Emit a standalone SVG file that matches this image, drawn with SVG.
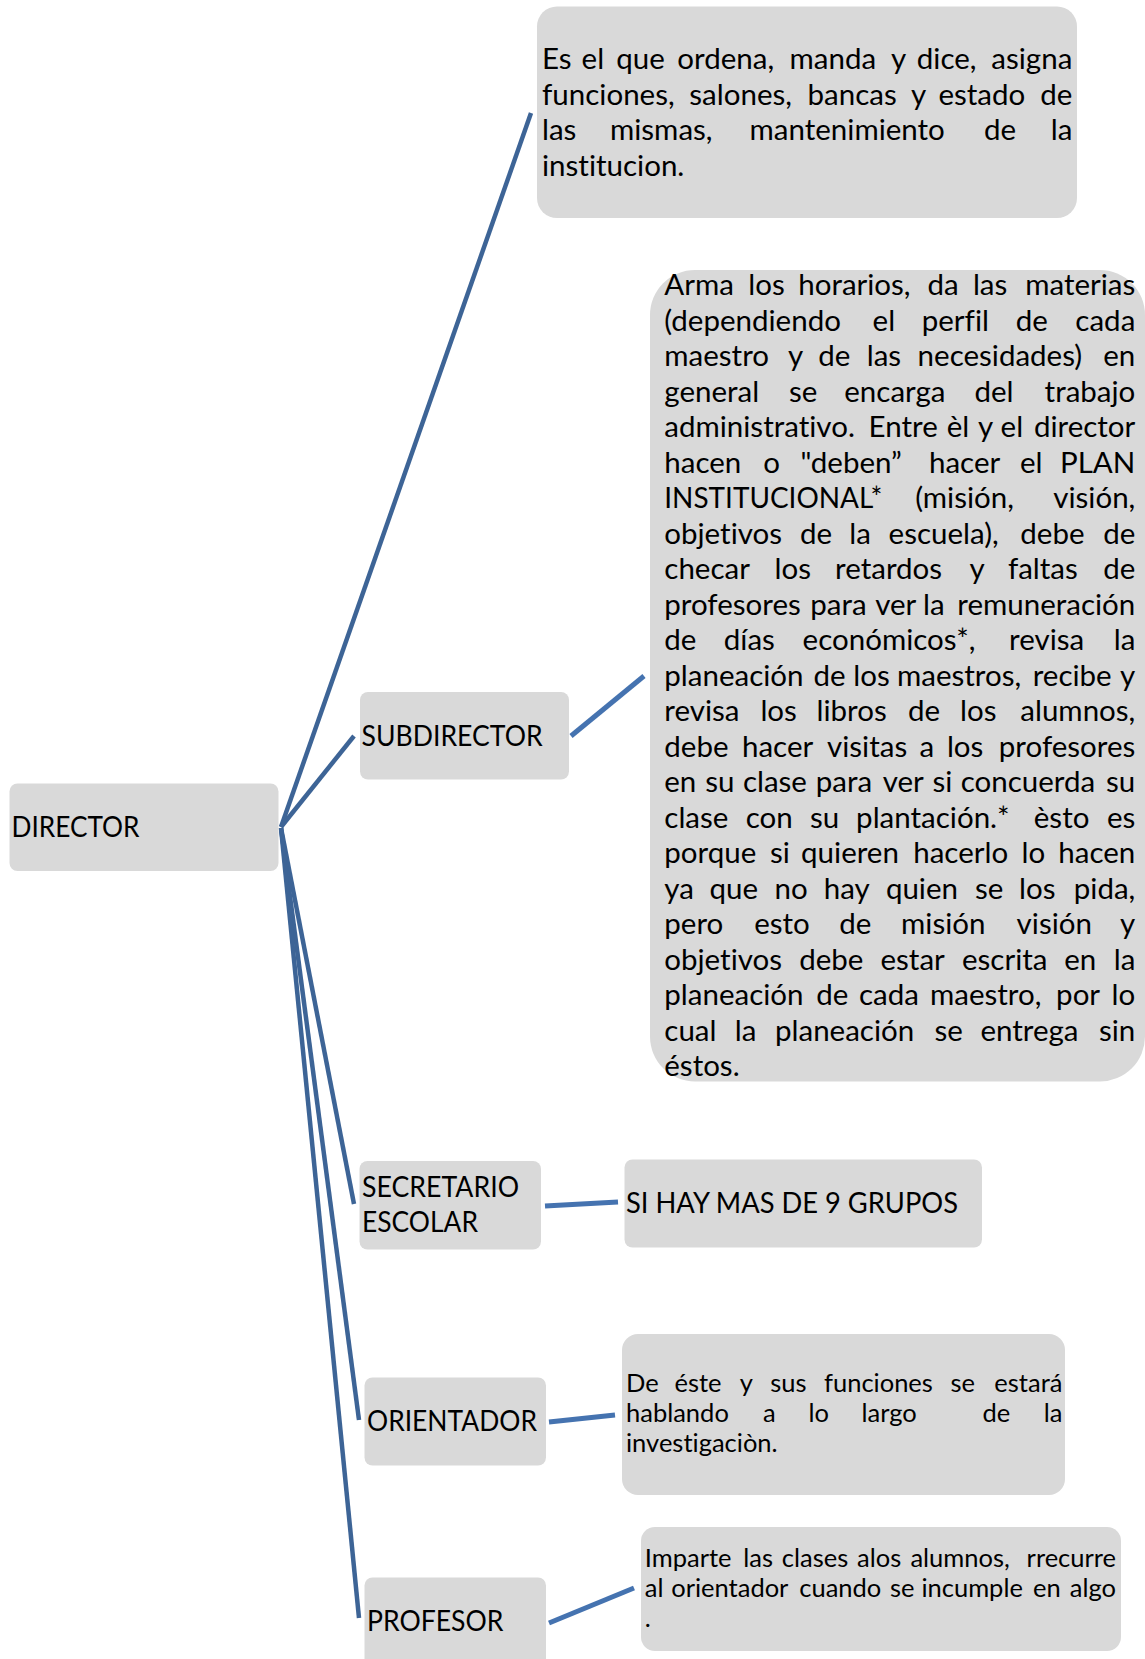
<svg xmlns="http://www.w3.org/2000/svg" width="1145" height="1659" viewBox="0 0 1145 1659">
<style>
.box{fill:#D9D9D9}
.t{font-family:Lato,"Noto Sans","Liberation Sans",sans-serif;fill:#000;font-variant-ligatures:none}
.big{font-size:29.5px}
.sm{font-size:25.5px}
.lbl{font-size:28px}
.e{text-anchor:end}
.main{stroke:#3D6496;stroke-width:4.5;fill:none;stroke-linecap:butt}
.sub{stroke:#4573B0;stroke-width:5;fill:none}
</style>
<rect width="1145" height="1659" fill="#fff"/>
<g id="connectors">
<path class="main" d="M281,827 L531,113"/>
<path class="main" d="M281,827 L354,736"/>
<path class="main" d="M281,828 L354,1204"/>
<path class="main" d="M281,828 L359,1420"/>
<path class="main" d="M281,828 L359,1618"/>
<path class="sub" d="M571,736 L644,676"/>
<path class="sub" d="M545,1206 L618,1202"/>
<path class="sub" d="M549,1422 L615,1415"/>
<path class="sub" d="M549,1623 L634,1588"/>
</g>
<g id="director">
<rect class="box" x="9.5" y="783.5" width="269" height="87.5" rx="8"/>
<text class="t lbl" x="11.5" y="836.5" textLength="128" lengthAdjust="spacingAndGlyphs">DIRECTOR</text>
</g>
<g id="director-desc">
<rect class="box" x="537" y="6.5" width="540" height="211.5" rx="20"/>
<text class="t big" y="69"><tspan x="542">Es </tspan><tspan x="581.6">el </tspan><tspan x="616.3">que </tspan><tspan x="677.3">ordena, </tspan><tspan x="789.6">manda </tspan><tspan x="890.9">y </tspan><tspan x="916.8">dice, </tspan><tspan class="e" x="1072.3">asigna</tspan></text>
<text class="t big" y="104.5"><tspan x="542">funciones, </tspan><tspan x="689.3">salones, </tspan><tspan x="807.6">bancas </tspan><tspan x="910.9">y </tspan><tspan x="938.4">estado </tspan><tspan class="e" x="1072.3">de</tspan></text>
<text class="t big" y="140"><tspan x="542">las </tspan><tspan x="610">mismas, </tspan><tspan x="749.6">mantenimiento </tspan><tspan x="984.1">de </tspan><tspan class="e" x="1072.3">la</tspan></text>
<text class="t big" x="542" y="175.5">institucion.</text>
</g>
<g id="subdirector">
<rect class="box" x="360" y="692" width="209" height="87.5" rx="8"/>
<text class="t lbl" x="361.6" y="746" textLength="181" lengthAdjust="spacingAndGlyphs">SUBDIRECTOR</text>
</g>
<g id="subdirector-desc">
<rect class="box" x="650" y="270" width="495" height="811.5" rx="45"/>
<text class="t big" y="295"><tspan x="664.3">Arma </tspan><tspan x="748.2">los </tspan><tspan x="798.2">horarios, </tspan><tspan x="927.5">da </tspan><tspan x="972.9">las </tspan><tspan class="e" x="1135.3">materias</tspan></text>
<text class="t big" y="330.5"><tspan x="664.3">(dependiendo </tspan><tspan x="872.6">el </tspan><tspan x="921.7">perfil </tspan><tspan x="1015.8">de </tspan><tspan class="e" x="1135.3">cada</tspan></text>
<text class="t big" y="366"><tspan x="664.3">maestro </tspan><tspan x="788.1">y </tspan><tspan x="818.3">de </tspan><tspan x="866.7">las </tspan><tspan x="917.6">necesidades) </tspan><tspan class="e" x="1135.3">en</tspan></text>
<text class="t big" y="401.5"><tspan x="664.3">general </tspan><tspan x="788.9">se </tspan><tspan x="844.3">encarga </tspan><tspan x="974.5">del </tspan><tspan class="e" x="1135.3">trabajo</tspan></text>
<text class="t big" y="437"><tspan x="664.3">administrativo. </tspan><tspan x="868.6">Entre </tspan><tspan x="946.8">èl </tspan><tspan x="978.1">y </tspan><tspan x="1000.6">el </tspan><tspan class="e" x="1135.3">director</tspan></text>
<text class="t big" y="472.5"><tspan x="664.3">hacen </tspan><tspan x="763.2">o </tspan><tspan x="800.6">"deben” </tspan><tspan x="929">hacer </tspan><tspan x="1020">el </tspan><tspan class="e" x="1135.3">PLAN</tspan></text>
<text class="t big" y="508"><tspan x="664.3" textLength="218" lengthAdjust="spacingAndGlyphs">INSTITUCIONAL*</tspan> <tspan x="915.2">(misión, </tspan><tspan class="e" x="1135.3">visión,</tspan></text>
<text class="t big" y="543.5"><tspan x="664.3">objetivos </tspan><tspan x="800">de </tspan><tspan x="849.3">la </tspan><tspan x="888.6">escuela), </tspan><tspan x="1020.3">debe </tspan><tspan class="e" x="1135.3">de</tspan></text>
<text class="t big" y="579"><tspan x="664.3">checar </tspan><tspan x="774.5">los </tspan><tspan x="835.1">retardos </tspan><tspan x="969.5">y </tspan><tspan x="1007.9">faltas </tspan><tspan class="e" x="1135.3">de</tspan></text>
<text class="t big" y="614.5"><tspan x="664.3">profesores </tspan><tspan x="810.2">para </tspan><tspan x="875.2">ver </tspan><tspan x="923.1">la </tspan><tspan class="e" x="1135.3">remuneración</tspan></text>
<text class="t big" y="650"><tspan x="664.3">de </tspan><tspan x="723.8">días </tspan><tspan x="802.6">económicos*, </tspan><tspan x="1009.1">revisa </tspan><tspan class="e" x="1135.3">la</tspan></text>
<text class="t big" y="685.5"><tspan x="664.3">planeación </tspan><tspan x="813.4">de </tspan><tspan x="853.2">los </tspan><tspan x="897">maestros, </tspan><tspan x="1032.7">recibe </tspan><tspan class="e" x="1135.3">y</tspan></text>
<text class="t big" y="721"><tspan x="664.3">revisa </tspan><tspan x="760.4">los </tspan><tspan x="816.5">libros </tspan><tspan x="907.9">de </tspan><tspan x="960">los </tspan><tspan class="e" x="1135.3">alumnos,</tspan></text>
<text class="t big" y="756.5"><tspan x="664.3">debe </tspan><tspan x="742">hacer </tspan><tspan x="827">visitas </tspan><tspan x="919.4">a </tspan><tspan x="946.9">los </tspan><tspan class="e" x="1135.3">profesores</tspan></text>
<text class="t big" y="792"><tspan x="664.3">en </tspan><tspan x="705.3">su </tspan><tspan x="742.9">clase </tspan><tspan x="815.8">para </tspan><tspan x="882.7">ver </tspan><tspan x="932.6">si </tspan><tspan x="960.7">concuerda </tspan><tspan class="e" x="1135.3">su</tspan></text>
<text class="t big" y="827.5"><tspan x="664.3">clase </tspan><tspan x="745.8">con </tspan><tspan x="809.9">su </tspan><tspan x="856.1">plantación.* </tspan><tspan x="1033.8">èsto </tspan><tspan class="e" x="1135.3">es</tspan></text>
<text class="t big" y="863"><tspan x="664.3">porque </tspan><tspan x="770">si </tspan><tspan x="801.1">quieren </tspan><tspan x="913.2">hacerlo </tspan><tspan x="1021.5">lo </tspan><tspan class="e" x="1135.3">hacen</tspan></text>
<text class="t big" y="898.5"><tspan x="664.3">ya </tspan><tspan x="709.6">que </tspan><tspan x="774.6">no </tspan><tspan x="823.8">hay </tspan><tspan x="885.9">quien </tspan><tspan x="975.1">se </tspan><tspan x="1019">los </tspan><tspan class="e" x="1135.3">pida,</tspan></text>
<text class="t big" y="934"><tspan x="664.3">pero </tspan><tspan x="754.2">esto </tspan><tspan x="839.3">de </tspan><tspan x="901.1">misión </tspan><tspan x="1016.6">visión </tspan><tspan class="e" x="1135.3">y</tspan></text>
<text class="t big" y="969.5"><tspan x="664.3">objetivos </tspan><tspan x="799.2">debe </tspan><tspan x="880.5">estar </tspan><tspan x="962">escrita </tspan><tspan x="1064.3">en </tspan><tspan class="e" x="1135.3">la</tspan></text>
<text class="t big" y="1005"><tspan x="664.3">planeación </tspan><tspan x="816.3">de </tspan><tspan x="859">cada </tspan><tspan x="930">maestro, </tspan><tspan x="1056.1">por </tspan><tspan class="e" x="1135.3">lo</tspan></text>
<text class="t big" y="1040.5"><tspan x="664.3">cual </tspan><tspan x="734.8">la </tspan><tspan x="775">planeación </tspan><tspan x="934.5">se </tspan><tspan x="980.4">entrega </tspan><tspan class="e" x="1135.3">sin</tspan></text>
<text class="t big" x="664.3" y="1076">éstos.</text>
</g>
<g id="secretario">
<rect class="box" x="359.5" y="1161" width="181.5" height="88.5" rx="8"/>
<text class="t lbl" x="362" y="1197" textLength="157" lengthAdjust="spacingAndGlyphs">SECRETARIO</text>
<text class="t lbl" x="362" y="1232" textLength="116" lengthAdjust="spacingAndGlyphs">ESCOLAR</text>
</g>
<g id="secretario-desc">
<rect class="box" x="624.5" y="1159.5" width="357.5" height="88" rx="8"/>
<text class="t lbl" x="626" y="1213" textLength="332" lengthAdjust="spacingAndGlyphs">SI HAY MAS DE 9 GRUPOS</text>
</g>
<g id="orientador">
<rect class="box" x="364.5" y="1377.5" width="181.5" height="88" rx="8"/>
<text class="t lbl" x="367" y="1431" textLength="170" lengthAdjust="spacingAndGlyphs">ORIENTADOR</text>
</g>
<g id="orientador-desc">
<rect class="box" x="622" y="1334" width="443" height="161" rx="16"/>
<text class="t sm" y="1391.5"><tspan x="626">De </tspan><tspan x="674.5">éste </tspan><tspan x="739.8">y </tspan><tspan x="770.2">sus </tspan><tspan x="824">funciones </tspan><tspan x="950.5">se </tspan><tspan class="e" x="1062.4">estará</tspan></text>
<text class="t sm" y="1421.7"><tspan x="626">hablando </tspan><tspan x="763.1">a </tspan><tspan x="808.5">lo </tspan><tspan x="861.5">largo  </tspan><tspan x="982.4">de </tspan><tspan class="e" x="1062.4">la</tspan></text>
<text class="t sm" x="626" y="1451.9">investigaciòn.</text>
</g>
<g id="profesor">
<rect class="box" x="364.5" y="1577.5" width="181.5" height="100" rx="8"/>
<text class="t lbl" x="367" y="1631" textLength="136.5" lengthAdjust="spacingAndGlyphs">PROFESOR</text>
</g>
<g id="profesor-desc">
<rect class="box" x="641" y="1527" width="480" height="124" rx="14"/>
<text class="t sm" y="1566.7"><tspan x="644.8">Imparte </tspan><tspan x="743.2">las </tspan><tspan x="781.8">clases </tspan><tspan x="857.1">alos </tspan><tspan x="910.4">alumnos, </tspan><tspan class="e" x="1116">rrecurre</tspan></text>
<text class="t sm" y="1596.7"><tspan x="644.8">al </tspan><tspan x="671.2">orientador </tspan><tspan x="799.3">cuando </tspan><tspan x="890">se </tspan><tspan x="921.4">incumple </tspan><tspan x="1033">en </tspan><tspan class="e" x="1116">algo</tspan></text>
<text class="t sm" x="644.8" y="1627">.</text>
</g>
</svg>
